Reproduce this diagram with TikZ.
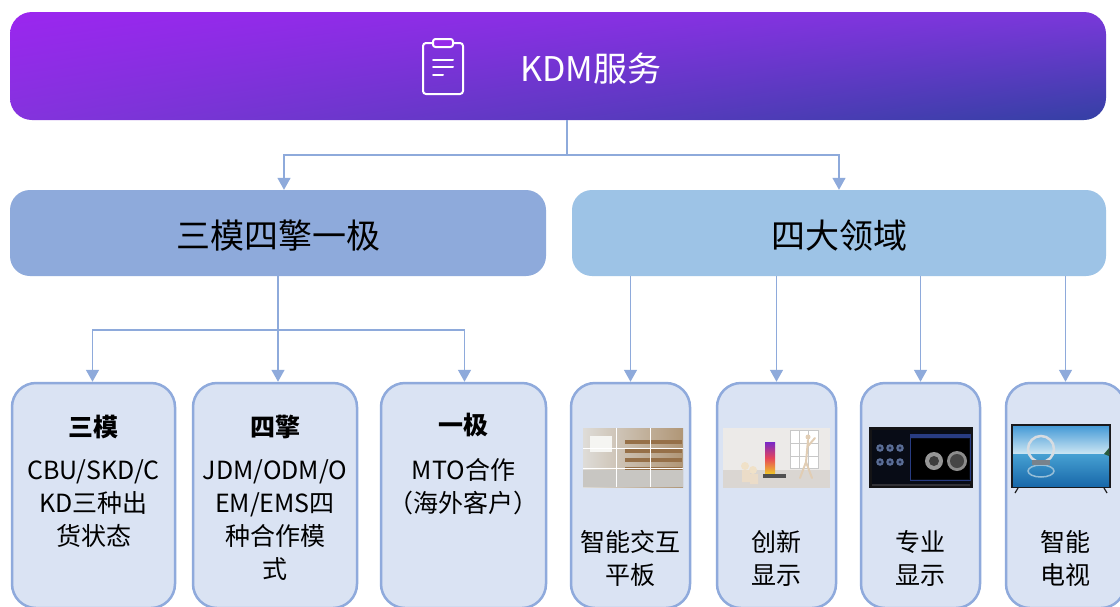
\documentclass[tikz,border=0pt]{standalone}
\usepackage{fontspec}
\setmainfont{Noto Sans CJK SC}
\usetikzlibrary{arrows.meta,shadings}
\definecolor{cline}{HTML}{8EAADB}
\definecolor{midA}{HTML}{8EAADB}
\definecolor{midB}{HTML}{9DC3E6}
\definecolor{lowfill}{HTML}{DAE3F3}
\definecolor{lowedge}{HTML}{8FAADC}
\definecolor{hUL}{HTML}{9B26EF}
\definecolor{hUR}{HTML}{7A38DA}
\definecolor{hLL}{HTML}{8433DD}
\definecolor{hLR}{HTML}{3440A4}
\definecolor{clipfill}{HTML}{962AEA}
% picture colours
\definecolor{pA}{HTML}{DEDCD8}
\definecolor{pB}{HTML}{B09676}
\definecolor{pC}{HTML}{F5F5F2}
\definecolor{pD}{HTML}{967048}
\definecolor{pE}{HTML}{C8C6C2}
\definecolor{qA}{HTML}{ECEAE8}
\definecolor{qB}{HTML}{DAD6D2}
\definecolor{qC}{HTML}{C8C8C8}
\definecolor{qD}{HTML}{7828C8}
\definecolor{qE}{HTML}{F0C828}
\definecolor{qF}{HTML}{E6465A}
\definecolor{qG}{HTML}{505050}
\definecolor{qH}{HTML}{F0E1C8}
\definecolor{qI}{HTML}{EBDCC8}
\definecolor{qJ}{HTML}{E1CDB4}
\definecolor{rA}{HTML}{141416}
\definecolor{rB}{HTML}{080C16}
\definecolor{rC}{HTML}{5A6E96}
\definecolor{rD}{HTML}{1E2846}
\definecolor{rE}{HTML}{283C82}
\definecolor{rF}{HTML}{969696}
\definecolor{rG}{HTML}{3C3C3C}
\definecolor{rH}{HTML}{8C8C8C}
\definecolor{rI}{HTML}{464646}
\definecolor{rJ}{HTML}{323237}
\definecolor{tA}{HTML}{19191C}
\definecolor{tB}{HTML}{469BD7}
\definecolor{tC}{HTML}{CDE6F3}
\definecolor{tD}{HTML}{46A0D2}
\definecolor{tE}{HTML}{1969AA}
\definecolor{tF}{HTML}{D7DCE1}
\definecolor{tG}{HTML}{96BED7}
\definecolor{tH}{HTML}{78828C}
\definecolor{tI}{HTML}{285A3C}
\definecolor{tJ}{HTML}{1E1E1E}
\begin{document}
\begin{tikzpicture}[x=1pt,y=-1pt,
  conn/.style={draw=cline, line width=1.5pt},
  arr/.style={conn, -{Triangle[width=13pt,length=12pt]}},
  midbox/.style={rounded corners=20pt, inner sep=0pt, font=\fontsize{34}{40}\selectfont},
  lowbox/.style={draw=lowedge, fill=lowfill, line width=2.5pt, rounded corners=24pt, minimum height=225pt},
  ttl/.style={font=\fontsize{25}{30}\selectfont\bfseries, inner sep=0pt},
  body/.style={font=\fontsize{25}{33}\selectfont, align=center, inner sep=0pt, anchor=north},
  icon/.style={draw=white, line width=2pt, line cap=round}
]
\useasboundingbox (0,0) rectangle (1120,606);
\fill[white] (0,0) rectangle (1120,606);

% header
\node[shade, rounded corners=22pt, minimum width=1096pt, minimum height=108pt, inner sep=0pt,
  upper left=hUL, upper right=hUR, lower left=hLL, lower right=hLR] (hdr) at (558,66) {};
\draw[icon, rounded corners=3pt] (423,43) rectangle (463,94);
\draw[icon, fill=clipfill, rounded corners=2.5pt] (433,39) rectangle (453,47);
\draw[icon] (433,60) -- (453,60);
\draw[icon] (433,67) -- (453,67);
\draw[icon] (433,75) -- (443,75);
\node[text=white, font=\fontsize{34}{40}\selectfont, anchor=west, inner sep=0pt] (hdrtxt) at (520,69) {KDM服务};

% middle boxes
\node[midbox, fill=midA, minimum width=536pt, minimum height=86pt] (m1) at (278,233) {};
\node[midbox] (m1t) at (278,236) {三模四擎一极};
\node[midbox, fill=midB, minimum width=534pt, minimum height=86pt] (m2) at (839,233) {};
\node[midbox] (m2t) at (839,236) {四大领域};

% header connectors
\coordinate (j1) at (567,155);
\draw[conn] (hdr.south -| j1) -- (j1);
\draw[arr] (j1) -| ([xshift=6pt]m1.north);
\draw[arr] (j1) -| (m2.north);

% lower boxes left
\node[lowbox, minimum width=163pt] (b1) at (93.5,495.5) {};
\node[lowbox, minimum width=164pt] (b2) at (275,495.5) {};
\node[lowbox, minimum width=165pt] (b3) at (463.5,495.5) {};
\node[ttl] (b1t) at (93.5,427) {三模};
\node[ttl] (b2t) at (275,427) {四擎};
\node[ttl] (b3t) at (463.5,425) {一极};
\node[body] (b1b) at (93.5,459) {CBU/SKD/C\\KD三种出\\货状态};
\node[body] (b2b) at (275,459) {JDM/ODM/O\\EM/EMS四\\种合作模\\式};
\node[body] (b3b) at (463.5,458) {MTO合作\\（海外客户）};

% left connectors
\coordinate (j2) at (278,330);
\draw[conn] (m1.south) -- (j2);
\draw[arr] (j2) -| ([xshift=-1pt]b1.north);
\draw[arr] (j2) -- (j2 |- b2.north);
\draw[arr] (j2) -| ([xshift=1pt]b3.north);

% lower boxes right
\node[lowbox, minimum width=119pt] (b4) at (630.5,495.5) {};
\node[lowbox, minimum width=119pt] (b5) at (776.5,495.5) {};
\node[lowbox, minimum width=119pt] (b6) at (920.5,495.5) {};
\node[lowbox, minimum width=119pt] (b7) at (1065.5,495.5) {};
\foreach \b in {b4,b5,b6,b7}{ \draw[arr] (m2.south -| \b.north) -- (\b.north); }
\node[body] (b4b) at (630.5,530) {智能交互\\平板};
\node[body] (b5b) at (776.5,530) {创新\\显示};
\node[body] (b6b) at (920.5,530) {专业\\显示};
\node[body] (b7b) at (1065.5,530) {智能\\电视};

% picture 1: video wall in a mall
\shade[left color=pA, right color=pB] (583,428) rectangle (683,487);
\fill[pC] (590,436) rectangle (612,452);
\foreach \yy in {440,449,458,467,476}{ \fill[pD] (625,\yy) rectangle (682,\yy+4); }
\fill[pE] (583,470) rectangle (683,487);
\draw[white, line width=1pt] (616,428) -- (616,487) (650,428) -- (650,487) (583,448) -- (683,448) (583,468) -- (683,468);

% picture 2: innovative display room
\fill[qA] (723,428) rectangle (830,488);
\fill[qB] (723,470) rectangle (830,488);
\fill[white] (790,430) rectangle (818,468);
\draw[qC, line width=0.6pt] (790,430) rectangle (818,468) (799,430) -- (799,468) (808,430) -- (808,468) (790,443) -- (818,443) (790,456) -- (818,456);
\shade[top color=qD, bottom color=qE, middle color=qF] (765,442) rectangle (775,474);
\fill[qG] (763,474) rectangle (786,478);
\fill[qH] (745,466) circle (4pt) (753,470) circle (4pt);
\fill[qI] (742,470) rectangle (750,482) (750,474) rectangle (758,484);
\draw[qJ, line width=2pt, line cap=round] (808,440) -- (806,462) -- (800,478) (806,462) -- (812,478) (808,446) -- (815,438);
\fill[qJ] (808,437) circle (2.5pt);

% picture 3: medical display
\fill[rA] (869,427) rectangle (973,488);
\fill[rB] (872,430) rectangle (970,484);
\foreach \xx in {880,890,900}{\foreach \yy in {448,462}{
  \fill[rC] (\xx,\yy) circle (3.8pt);
  \fill[rD] (\xx,\yy) circle (1.6pt);}}
\draw[rE, line width=1pt] (910,434) rectangle (970,480);
\fill[rE] (910,434) rectangle (970,438);
\fill[black] (911,439) rectangle (969,479);
\fill[rF] (934,461) circle (9pt);
\fill[rG] (934,461) circle (5pt);
\fill[rH] (957,461) circle (10pt);
\fill[rI] (957,461) circle (7pt);
\fill[rJ] (872,484) rectangle (970,486);

% picture 4: TV
\fill[tA] (1011,424) rectangle (1111,488);
\shade[top color=tB, bottom color=tC] (1013,426) rectangle (1109,454);
\shade[top color=tD, bottom color=tE] (1013,454) rectangle (1109,486);
\draw[tF, line width=2.5pt] (1041,449) circle (13pt);
\draw[tG, line width=1.5pt] (1041,471) ellipse (13pt and 6pt);
\fill[tH] (1032,460) rectangle (1050,465);
\fill[tI] (1104,454) -- (1109,448) -- (1109,456) -- cycle;
\draw[tJ, line width=1.2pt] (1018,488) -- (1015,493) (1104,488) -- (1107,493);
\end{tikzpicture}
\end{document}
